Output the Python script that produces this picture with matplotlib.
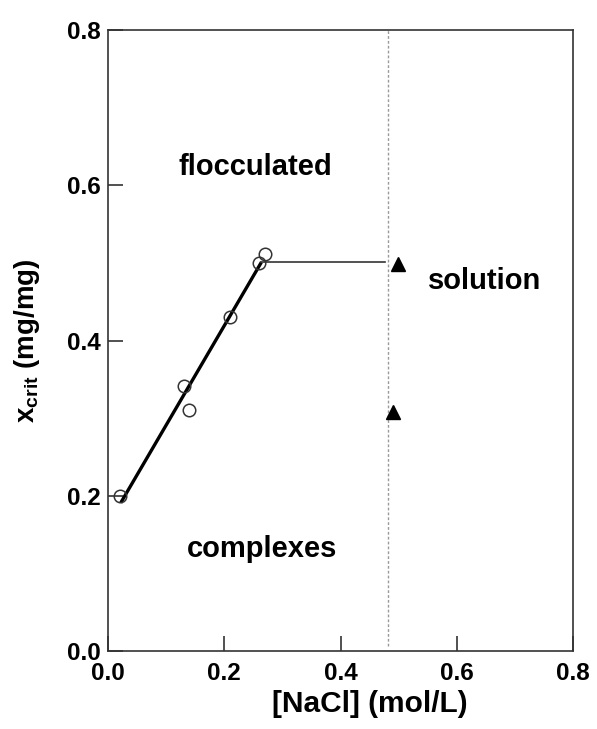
import matplotlib

matplotlib.use("Agg")
import matplotlib.pyplot as plt

plt.rcParams["font.family"] = ["Liberation Sans", "DejaVu Sans"]
plt.rcParams["font.weight"] = "bold"
plt.rcParams["mathtext.fontset"] = "custom"
plt.rcParams["mathtext.bf"] = "Liberation Sans:bold"

# measured points (open circles)
nacl_pts = [0.02, 0.13, 0.14, 0.21, 0.26, 0.27]
xcrit_pts = [0.20, 0.342, 0.31, 0.43, 0.50, 0.511]

# fitted line and plateau
fit_x = [0.022, 0.264]
fit_y = [0.191, 0.501]
plateau_x = [0.264, 0.477]
plateau_y = [0.501, 0.501]

# solution points (filled triangles)
sol_x = [0.499, 0.490]
sol_y = [0.499, 0.308]

boundary_x = 0.482

fig = plt.figure(figsize=(5.97, 7.29), dpi=100)
ax = fig.add_axes([108 / 597, 1 - 651 / 729, 465 / 597, 621 / 729])

ax.axvline(boundary_x, ymin=0.008, ymax=1.0, color="#9a9a9a", lw=1.0, ls=(0, (2, 1.5)))
ax.plot(fit_x, fit_y, color="black", lw=2.4, solid_capstyle="butt")
ax.plot(plateau_x, plateau_y, color="#333333", lw=1.2)
ax.plot(nacl_pts, xcrit_pts, "o", mfc="none", mec="#333333", ms=9, mew=1.1)
ax.plot(sol_x, sol_y, "^", color="black", ms=10)

ax.text(0.254, 0.623, "flocculated", fontsize=21, fontweight="bold", ha="center", va="center")
ax.text(0.648, 0.477, "solution", fontsize=21, fontweight="bold", ha="center", va="center")
ax.text(0.265, 0.131, "complexes", fontsize=21, fontweight="bold", ha="center", va="center")

ax.set_xlim(0, 0.8)
ax.set_ylim(0, 0.8)
ax.set_xticks([0.0, 0.2, 0.4, 0.6, 0.8])
ax.set_yticks([0.0, 0.2, 0.4, 0.6, 0.8])
ax.set_xticklabels(["0.0", "0.2", "0.4", "0.6", "0.8"])
ax.set_yticklabels(["0.0", "0.2", "0.4", "0.6", "0.8"])
ax.tick_params(direction="in", length=11, width=1.2, labelsize=17.5, color="#333333")
ax.tick_params(axis="x", pad=8)
ax.tick_params(axis="y", pad=5)
for lab in ax.get_xticklabels() + ax.get_yticklabels():
    lab.set_fontweight("bold")
for spine in ax.spines.values():
    spine.set_linewidth(1.2)
    spine.set_color("#333333")

ax.set_xlabel("[NaCl] (mol/L)", fontsize=21.5, fontweight="bold")
ax.xaxis.set_label_coords(0.563, -0.062)
ax.set_ylabel(r"x$_{\mathbf{crit}}$ (mg/mg)", fontsize=20, fontweight="bold")
ax.yaxis.set_label_coords(-0.142, 0.5)

fig.savefig("out.png", dpi=100)
plt.close(fig)
